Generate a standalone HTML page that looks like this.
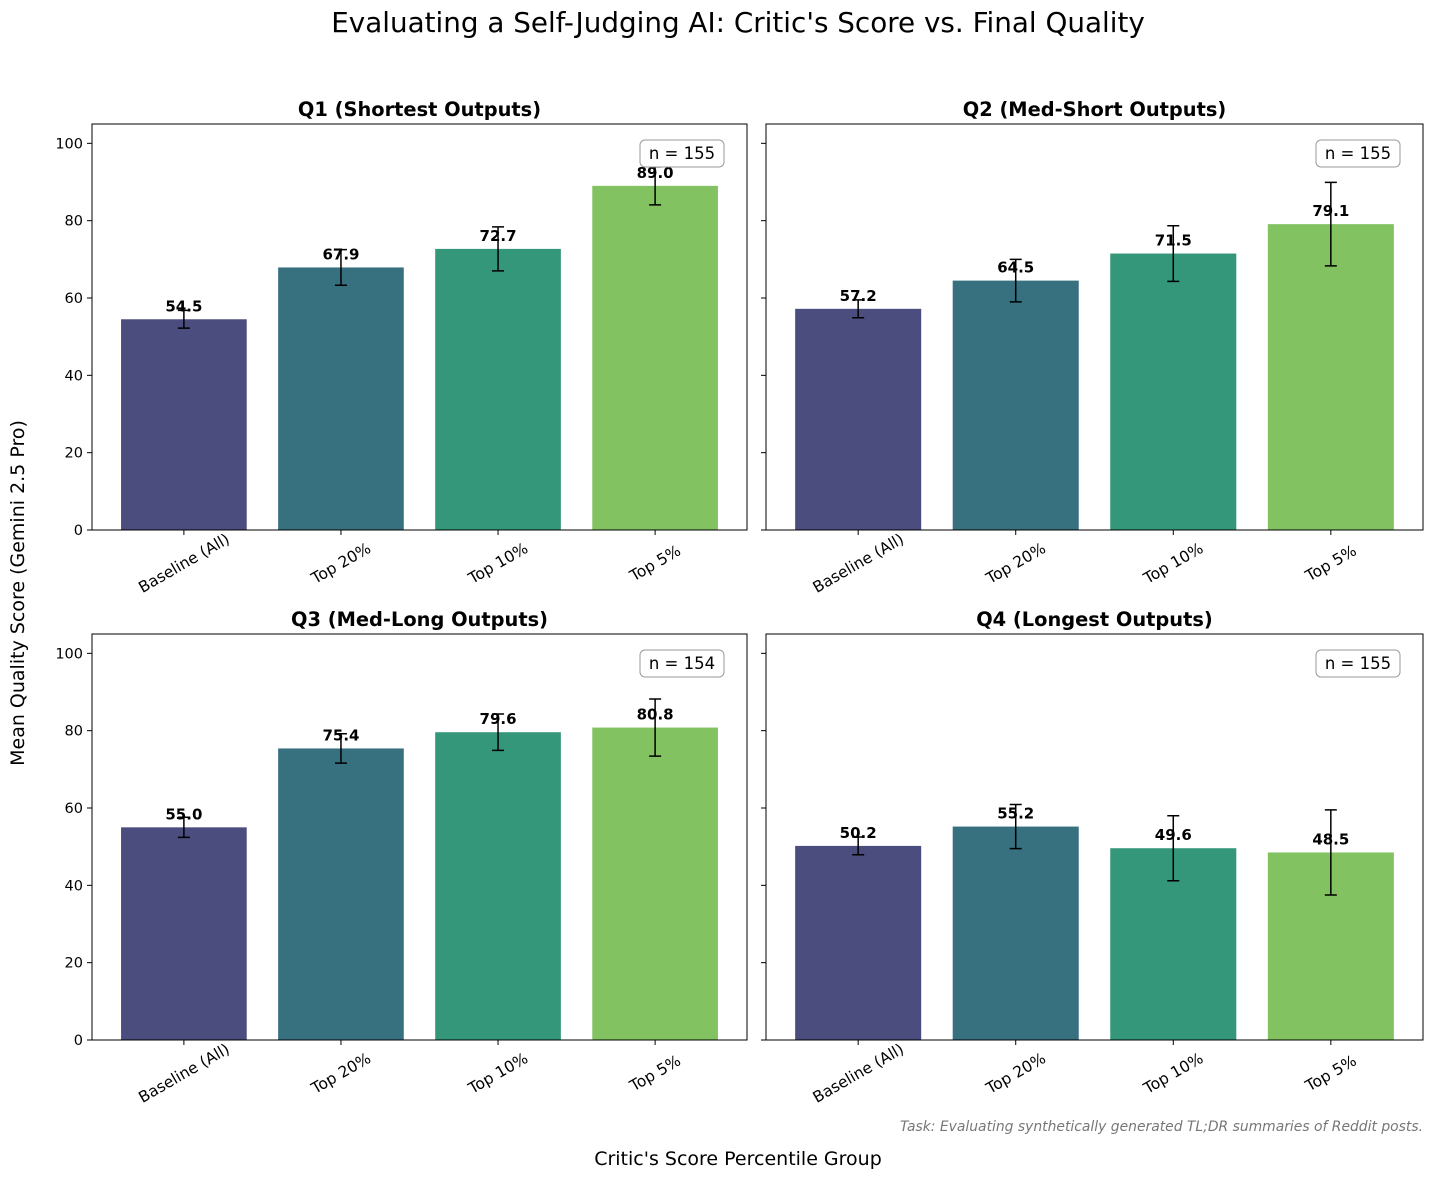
<!DOCTYPE html>
<html><head><meta charset="utf-8"><style>
body{margin:0;background:#fff}
svg{display:block;font-family:"DejaVu Sans","Liberation Sans",sans-serif}
</style></head><body>
<svg id="chart" width="1434" height="1179" viewBox="0 0 1434 1179" xmlns="http://www.w3.org/2000/svg">
<text x="738" y="32" font-size="27.8" text-anchor="middle">Evaluating a Self-Judging AI: Critic's Score vs. Final Quality</text>
<text transform="translate(24,593) rotate(-90)" font-size="19" text-anchor="middle">Mean Quality Score (Gemini 2.5 Pro)</text>
<text x="738" y="1165" font-size="19" text-anchor="middle">Critic's Score Percentile Group</text>
<text x="1423" y="1131" font-size="13.9" font-style="italic" fill="#777" text-anchor="end">Task: Evaluating synthetically generated TL;DR summaries of Reddit posts.</text>
</svg>
<script>
const categories = ["Baseline (All)","Top 20%","Top 10%","Top 5%"];
const panelTitles = ["Q1 (Shortest Outputs)","Q2 (Med-Short Outputs)","Q3 (Med-Long Outputs)","Q4 (Longest Outputs)"];
const panelN = [155,155,154,155];
const q1Values = [54.5,67.9,72.7,89.0];
const q2Values = [57.2,64.5,71.5,79.1];
const q3Values = [55.0,75.4,79.6,80.8];
const q4Values = [50.2,55.2,49.6,48.5];
const q1Err = [2.3,4.6,5.7,4.9];
const q2Err = [2.3,5.5,7.2,10.8];
const q3Err = [2.6,3.8,4.7,7.4];
const q4Err = [2.3,5.7,8.4,11.0];
const yTicks = [0,20,40,60,80,100];
const colors = ["#4a4d7d","#37707f","#35977a","#82c261"];

const NS="http://www.w3.org/2000/svg";
const svg=document.getElementById('chart');
function mk(tag,attrs,parent){const e=document.createElementNS(NS,tag);for(const k in attrs)e.setAttribute(k,attrs[k]);(parent||svg).appendChild(e);return e;}

const panels=[
 {x0:92,x1:747,y0:124,y1:530,vals:q1Values,err:q1Err,labels:true},
 {x0:766,x1:1423,y0:124,y1:530,vals:q2Values,err:q2Err,labels:false},
 {x0:92,x1:747,y0:634,y1:1040,vals:q3Values,err:q3Err,labels:true},
 {x0:766,x1:1423,y0:634,y1:1040,vals:q4Values,err:q4Err,labels:false}
];
panels.forEach((p,pi)=>{
 const g=mk('g',{});
 
 
 const xmin=-0.585,xmax=3.585,ymax=105;
 const xs=v=>p.x0+(v-xmin)/(xmax-xmin)*(p.x1-p.x0);
 const ys=v=>p.y1-v/ymax*(p.y1-p.y0);
 const bw=(xs(0.8)-xs(0));
 p.vals.forEach((v,i)=>{
  const r=mk('rect',{x:xs(i)-bw/2,y:ys(v),width:bw,height:ys(0)-ys(v),fill:colors[i]},g);
  
  
  const e=p.err[i],cx=xs(i);
  const eb=mk('path',{d:`M${cx},${ys(v+e)}V${ys(v-e)}M${cx-6},${ys(v+e)}H${cx+6}M${cx-6},${ys(v-e)}H${cx+6}`,stroke:'#000','stroke-width':1.5,fill:'none'},g);
  
  
  const t=mk('text',{x:cx,y:ys(v)-8,'font-size':15,'font-weight':'bold','text-anchor':'middle'},g);
  t.textContent=v.toFixed(1);
  
  
  mk('line',{x1:cx,x2:cx,y1:p.y1,y2:p.y1+5,stroke:'#000'},g);
  const tl=mk('text',{transform:`translate(${cx},${p.y1+33}) rotate(-30)`,'font-size':15.5,'text-anchor':'middle',dy:'0.35em'},g);
  tl.textContent=categories[i];
  
  
 });
 yTicks.forEach(t=>{
  mk('line',{x1:p.x0-5,x2:p.x0,y1:ys(t),y2:ys(t),stroke:'#000'},g);
  if(p.labels){const tx=mk('text',{x:p.x0-9,y:ys(t)+5,'font-size':14.5,'text-anchor':'end'},g);tx.textContent=t;
   
   }
 });
 mk('rect',{x:p.x0,y:p.y0,width:p.x1-p.x0,height:p.y1-p.y0,fill:'none',stroke:'#000','stroke-width':1},g);
 const tt=mk('text',{x:(p.x0+p.x1)/2,y:p.y0-8,'font-size':19.4,'font-weight':'bold','text-anchor':'middle'},g);
 tt.textContent=panelTitles[pi];
 
 
 const bx=mk('rect',{x:p.x1-107,y:p.y0+16,width:84,height:27,rx:5,fill:'#fff',stroke:'#999'},g);
 
 
 const nt=mk('text',{x:p.x1-65,y:p.y0+35,'font-size':16.5,'text-anchor':'middle'},g);
 nt.textContent='n = '+panelN[pi];
 
 
});
</script>
</body></html>
